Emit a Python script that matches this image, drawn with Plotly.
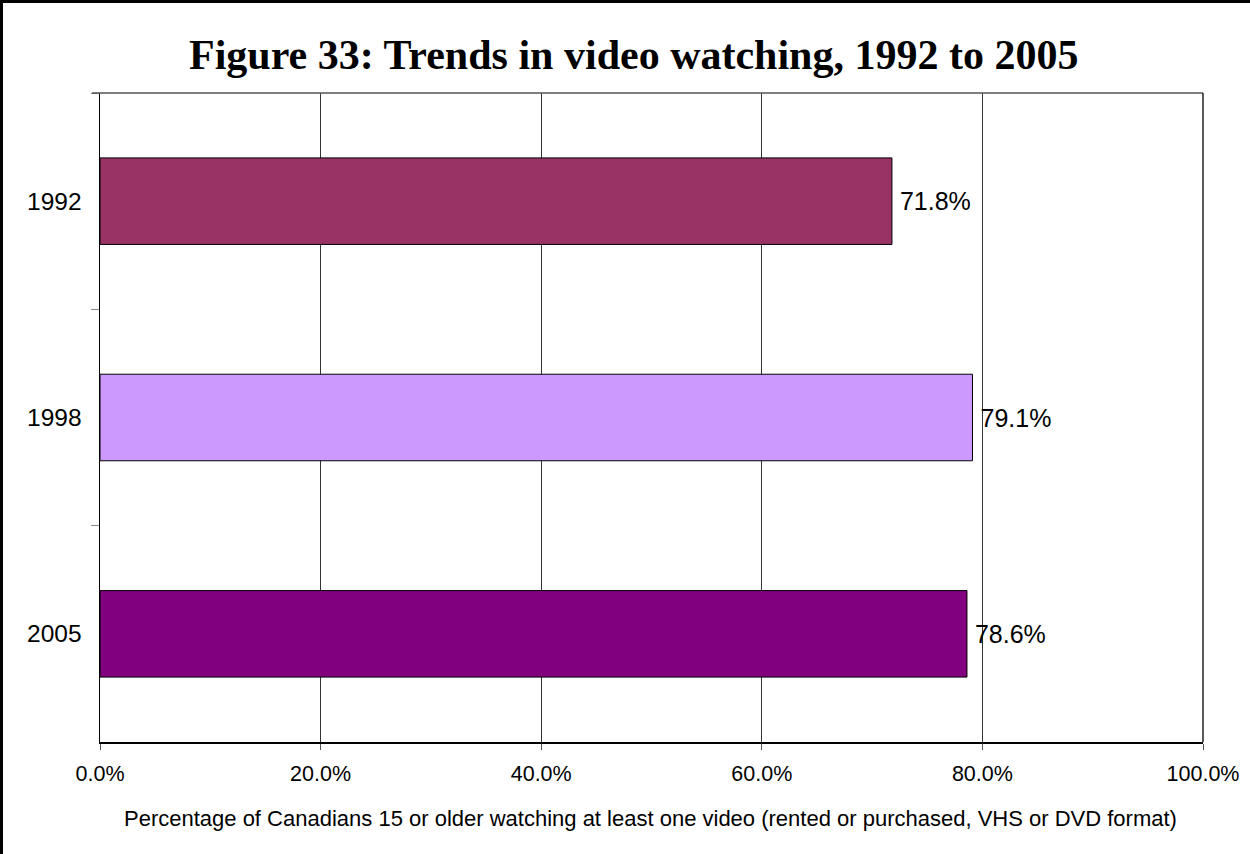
import plotly.graph_objects as go

years = ["1992", "1998", "2005"]
values = [71.8, 79.1, 78.6]
bar_colors = ["#993366", "#CC99FF", "#800080"]
x_ticks = [0, 20, 40, 60, 80, 100]
x_tick_labels = ["0.0%", "20.0%", "40.0%", "60.0%", "80.0%", "100.0%"]

W, H = 1250, 854
L, R, T, B = 100, 1203, 93, 742
pw, ph = R - L, B - T

def px_x(px):
    return (px - L) / pw

def px_y(py):
    return 1 - (py - T) / ph

fig = go.Figure()
fig.add_trace(go.Bar(
    y=years, x=values, orientation="h",
    marker=dict(color=bar_colors, line=dict(color="#000000", width=1)),
    width=0.4,
    text=["\u2009" + f"{v:.1f}%" for v in values],
    textposition="outside",
    constraintext="none",
    textfont=dict(family="Liberation Sans, Arial", size=25, color="#000000"),
    cliponaxis=False,
    hoverinfo="skip",
))

fig.update_layout(
    width=W, height=H,
    margin=dict(l=L, r=W - R, t=T, b=H - B, pad=0),
    paper_bgcolor="#ffffff", plot_bgcolor="#ffffff",
    showlegend=False,
    bargap=0.6,
    title=dict(
        text="<b>Figure 33: Trends in video watching, 1992 to 2005</b>",
        font=dict(family="Liberation Serif, Times New Roman, serif", size=42, color="#000000"),
        x=0.507, xref="container", xanchor="center",
        y=1 - 54 / H, yref="container", yanchor="middle",
    ),
    xaxis=dict(
        range=[0, 100], tickvals=x_ticks, ticktext=x_tick_labels,
        showgrid=True, gridcolor="#333333", gridwidth=1,
        showline=True, linecolor="#000000", linewidth=1.5,
        mirror=False,
        ticks="outside", ticklen=6, tickcolor="#555555", tickwidth=1,
        ticklabelstandoff=6,
        tickfont=dict(family="Liberation Sans, Arial", size=21.5, color="#000000"),
        zeroline=False, fixedrange=True,
    ),
    yaxis=dict(
        categoryorder="array", categoryarray=years, autorange="reversed",
        showgrid=False,
        showline=True, linecolor="#000000", linewidth=1.5,
        ticks="outside", ticklen=8, tickcolor="#888888", tickwidth=1,
        tickson="boundaries",
        ticklabelstandoff=12,
        tickfont=dict(family="Liberation Sans, Arial", size=24.5, color="#000000"),
        fixedrange=True,
    ),
    font=dict(family="Liberation Sans, Arial"),
)

# plot area top and right border
fig.add_shape(type="line", xref="paper", yref="paper", x0=px_x(92), x1=1, y0=1, y1=1,
              line=dict(color="#555555", width=1.5))
fig.add_shape(type="line", xref="paper", yref="paper", x0=1, x1=1, y0=0, y1=1,
              line=dict(color="#222222", width=1.5))

# figure border (left and top edges visible)
fig.add_shape(type="rect", xref="paper", yref="paper",
              x0=px_x(1.5), x1=px_x(W + 20), y0=px_y(1.5), y1=px_y(H + 20),
              line=dict(color="#000000", width=3), fillcolor="rgba(0,0,0,0)", layer="above")

# axis title
fig.add_annotation(
    text="Percentage of Canadians 15 or older watching at least one video (rented or purchased, VHS or DVD format)",
    xref="paper", yref="paper", x=px_x(650), y=px_y(818),
    xanchor="center", yanchor="middle", showarrow=False,
    font=dict(family="Liberation Sans, Arial", size=22, color="#000000"),
)

fig.write_html("out.html", config={"displayModeBar": False, "staticPlot": True},
               post_script="document.body.style.margin='0';document.body.style.overflow='hidden';")
